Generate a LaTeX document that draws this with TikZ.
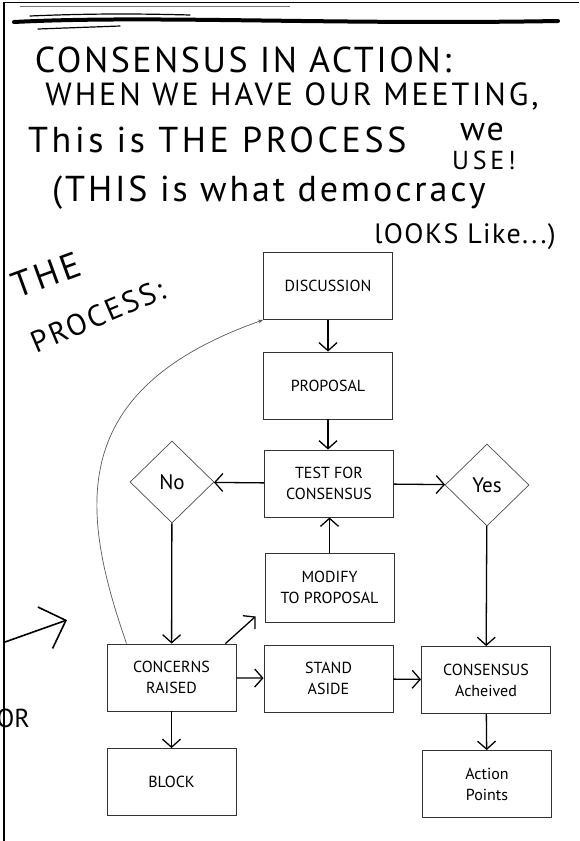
\documentclass[tikz,border=0pt]{standalone}
\usepackage{fontspec}
\setmainfont{PT Sans}
\usetikzlibrary{arrows.meta,shapes.geometric,calc}
\newcommand{\tfont}[2]{\fontsize{#1}{#1}\selectfont\addfontfeatures{LetterSpace=#2}}
\begin{document}
\begin{tikzpicture}[x=1pt,y=-1pt,
  box/.style={draw=black!80,line width=0.9pt,minimum width=129pt,minimum height=67pt,inner sep=0pt,align=center,font=\fontsize{16}{21}\selectfont},
  dia/.style={draw=black!70,line width=0.7pt,diamond,minimum width=84pt,minimum height=82pt,inner sep=0pt,font=\fontsize{21}{24}\selectfont},
  arr/.style={line width=1.3pt,-{Straight Barb[length=8pt,width=18pt,line width=1.3pt]}},
  thinarr/.style={draw=black!65,line width=0.7pt,-{Stealth[length=5pt,width=4pt]}},
  title/.style={inner sep=0pt,anchor=center},
]
\useasboundingbox (0,0) rectangle (579,841);
% frame and top rule
\draw[line width=1.6pt] (4,841) -- (4,2.5) -- (579,2.5);
\draw[black!55,line width=0.8pt] (20,6) -- (290,6);
\draw[line width=4pt,line cap=round] (14,22) .. controls (150,15) and (330,25) .. (558,21);
\draw[line width=1.2pt,line cap=round] (30,16) .. controls (100,13) and (150,14) .. (190,15);
\draw[line width=1.2pt,line cap=round] (38,29) -- (120,26);
% title
\node[title,font=\tfont{36}{7}] (t1) at (243,60) {CONSENSUS IN ACTION:};
\node[title,font=\tfont{32}{9}] (t2) at (292,96) {WHEN WE HAVE OUR MEETING,};
\node[title,font=\tfont{36}{10},anchor=west] (t3) at (28,140) {This is THE PROCESS};
\node[title,font=\tfont{34}{6}] (t3w) at (482,132) {we};
\node[title,font=\tfont{26}{14}] (t3b) at (484,160) {USE!};
\node[title,font=\tfont{36}{8},anchor=west] (t4) at (52,193) {(THIS is what democracy};
\node[title,font=\tfont{28}{5},anchor=east] (t5) at (556,237) {lOOKS Like...)};
\node[title,font=\tfont{36}{10},rotate=20] (the) at (46,275) {THE};
\node[title,font=\tfont{30}{8},rotate=23] (proc) at (98,316) {PROCESS:};
% boxes
\node[box] (dis) at (328,286) {DISCUSSION};
\node[box] (pro) at (328,385.5) {PROPOSAL};
\node[box] (tst) at (329,483.5) {TEST FOR\\CONSENSUS};
\node[dia] (no) at (172,482) {No};
\node[dia] (yes) at (487,485) {Yes};
\node[box,minimum height=69pt] (mod) at (329.5,587.5) {MODIFY\\TO PROPOSAL};
\node[box] (cr) at (171.5,677.5) {CONCERNS\\RAISED};
\node[box] (sa) at (328.5,678.5) {STAND\\ASIDE};
\node[box] (ca) at (486,680) {CONSENSUS\\Acheived};
\node[box] (blk) at (171.5,782) {BLOCK};
\node[box] (ap) at (487,784) {Action\\Points};
% arrows
\draw[arr] (dis) -- (pro);
\draw[arr] (pro.south) -- (pro.south |- tst.north);
\draw[arr] (tst) -- (no);
\draw[arr] (tst) -- (yes);
\draw[arr] (no) -- (cr);
\draw[arr] (yes) -- (ca);
\draw[arr] (mod) -- (tst.south -| mod.north);
\draw[arr] ($(cr.north east)+(-11,0)$) -- ($(mod.south west)+(-9,-6)$);
\draw[arr] (cr) -- (sa);
\draw[arr] (sa) -- (ca);
\draw[arr] (cr) -- (blk);
\draw[arr] (ca) -- (ap);
\draw[thinarr] ($(cr.north west)+(20,0)$) .. controls (80,510) and (65,390) .. (dis.south west);
% left arrow and OR
\coordinate (la1) at (5,642);
\coordinate (la2) at (67,620);
\draw[line width=1.6pt,-{Straight Barb[length=22pt,width=44pt,line width=1.6pt]}] (la1) -- (la2);
\node[title,font=\fontsize{26}{28}\selectfont,anchor=east] (orr) at (30,718) {OR};
\end{tikzpicture}
\end{document}
